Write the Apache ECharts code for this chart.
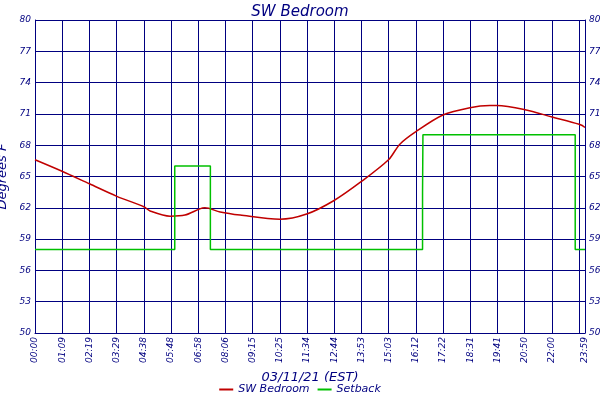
<!DOCTYPE html>
<html><head><meta charset="utf-8">
<script src="https://cdn.jsdelivr.net/npm/echarts@6/dist/echarts.min.js"></script>
<style>html,body{margin:0;padding:0;background:#fff}#c{width:600px;height:400px}</style>
</head><body><div id="c"></div>
<script>
const tickLabels=["00:00","01:09","02:19","03:29","04:38","05:48","06:58","08:06","09:15","10:25","11:34","12:44","13:53","15:03","16:12","17:22","18:31","19:41","20:50","22:00","23:10","23:59"];
const tempMinutes=[0,69,139,209,278,294,345,383,421,434,473,524,625,694,764,833,903,932,973,1042,1111,1162,1180,1252,1321,1390,1405];
const tempValues=[66.6,65.5,64.3,63.1,62.1,61.7,61.2,61.3,61.9,62.0,61.6,61.3,60.9,61.4,62.7,64.5,66.6,68.1,69.3,70.9,71.6,71.8,71.8,71.4,70.7,70.0,69.7];
const setbackMinutes=[0,357,357,357,448,448,990,990,991,991,1380,1380,1405];
const setbackValues=[58,58,63.5,66,66,58,58,63.5,63.5,69,69,58,58];
const xMax=1405, step=69.5;
const navy='#000080';
function fmt(v){ if(v>=xMax-1) return tickLabels[tickLabels.length-1]; const i=Math.round(v/step); return tickLabels[i]||''; }
const chart=echarts.init(document.getElementById('c'));
const lbl={color:navy,fontStyle:'italic',fontSize:9,fontFamily:'DejaVu Sans'};
chart.setOption({
 animation:false,
 title:{text:'SW Bedroom',left:'center',top:0,textStyle:{color:navy,fontStyle:'italic',fontSize:15,fontWeight:'normal',fontFamily:'DejaVu Sans'}},
 grid:{left:35,right:15,top:20,bottom:67,containLabel:false,outerBoundsMode:'none'},
 legend:{bottom:0,left:'center',itemWidth:14,itemHeight:2,icon:'rect',textStyle:{color:navy,fontStyle:'italic',fontSize:11,fontFamily:'DejaVu Sans'},data:['SW Bedroom','Setback']},
 xAxis:{type:'value',min:0,max:xMax,interval:step,name:'03/11/21 (EST)',nameLocation:'middle',nameGap:38,nameTextStyle:{color:navy,fontStyle:'italic',fontSize:13,fontFamily:'DejaVu Sans'},
   axisLine:{lineStyle:{color:navy}},axisTick:{show:false},splitLine:{show:true,lineStyle:{color:navy,width:1}},
   axisLabel:Object.assign({rotate:90,formatter:fmt,showMaxLabel:true,showMinLabel:true,hideOverlap:false,margin:4},lbl)},
 yAxis:[{type:'value',min:50,max:80,interval:3,name:'Degrees F',nameLocation:'middle',nameGap:22,nameTextStyle:{color:navy,fontStyle:'italic',fontSize:13,fontFamily:'DejaVu Sans'},
   axisLine:{show:true,lineStyle:{color:navy}},axisTick:{show:false},splitLine:{lineStyle:{color:navy,width:1}},axisLabel:Object.assign({margin:4},lbl)},
  {type:'value',min:50,max:80,interval:3,position:'right',axisLine:{show:true,lineStyle:{color:navy}},axisTick:{show:false},splitLine:{show:false},axisLabel:Object.assign({margin:4},lbl)}],
 series:[
  {name:'SW Bedroom',type:'line',smooth:0.3,symbol:'none',color:'#c00000',lineStyle:{width:1.5},data:tempMinutes.map((m,i)=>[m,tempValues[i]])},
  {name:'Setback',type:'line',symbol:'none',color:'#00c000',lineStyle:{width:1.5},data:setbackMinutes.map((m,i)=>[m,setbackValues[i]])}
 ]
});
</script></body></html>
